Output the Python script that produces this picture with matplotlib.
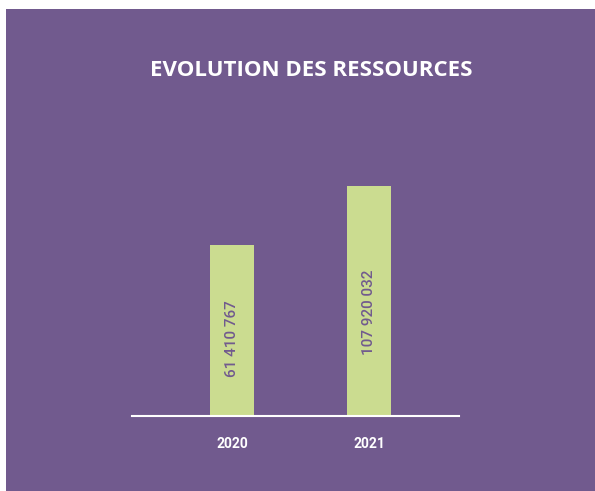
import numpy as np
import matplotlib.pyplot as plt
from matplotlib.patches import Rectangle

years = ['2020', '2021']
ressources = np.array([61410767, 107920032])
value_labels = ['61 410 767', '107 920 032']

purple = '#715a8e'
green = '#cbdc90'

W, H = 595, 491
fig = plt.figure(figsize=(W / 100, H / 100), dpi=100)
fig.patch.set_facecolor('white')
fig.patches.append(Rectangle((6 / W, 0), 1, 1 - 9 / H, transform=fig.transFigure,
                             facecolor=purple, edgecolor='none', zorder=-5))

fig.text(311 / W, 1 - 70 / H, 'EVOLUTION DES RESSOURCES', color='white',
         fontsize=16, fontweight='bold', family=['Open Sans', 'DejaVu Sans'],
         ha='center', va='center')

# axes box in pixels: baseline at y=416, line from x=132 to x=459
left, right, top, bottom = 132, 459, 150, 416
ax = fig.add_axes([left / W, 1 - bottom / H, (right - left) / W, (bottom - top) / H])
ax.set_facecolor('none')
ax.set_zorder(2)

# bars are not drawn from zero in the original, use a shifted baseline
base = -73.4e6
x = np.arange(len(years))
ax.bar(x, ressources - base, bottom=base, width=0.32, color=green, zorder=2)
ax.set_xlim(-0.73, 1.657)
ax.set_ylim(base, base + (bottom - top) / 230 * (ressources[1] - base))

for xi, v, lab in zip(x, ressources, value_labels):
    ax.text(xi, base + 0.45 * (v - base), lab, rotation=90, ha='center', va='center',
            color=purple, fontsize=11, fontweight='medium',
            family=['Roboto', 'DejaVu Sans'])

ax.set_xticks(x)
ax.set_xticklabels(years, color='white', fontsize=10, fontweight='bold',
                   family=['Roboto', 'DejaVu Sans'])
ax.tick_params(axis='x', length=0, pad=15)
ax.set_yticks([])
for s in ['top', 'left', 'right']:
    ax.spines[s].set_visible(False)
ax.spines['bottom'].set_color('white')
ax.spines['bottom'].set_linewidth(1.5)

fig.savefig('out.png', dpi=100, facecolor=fig.get_facecolor())
